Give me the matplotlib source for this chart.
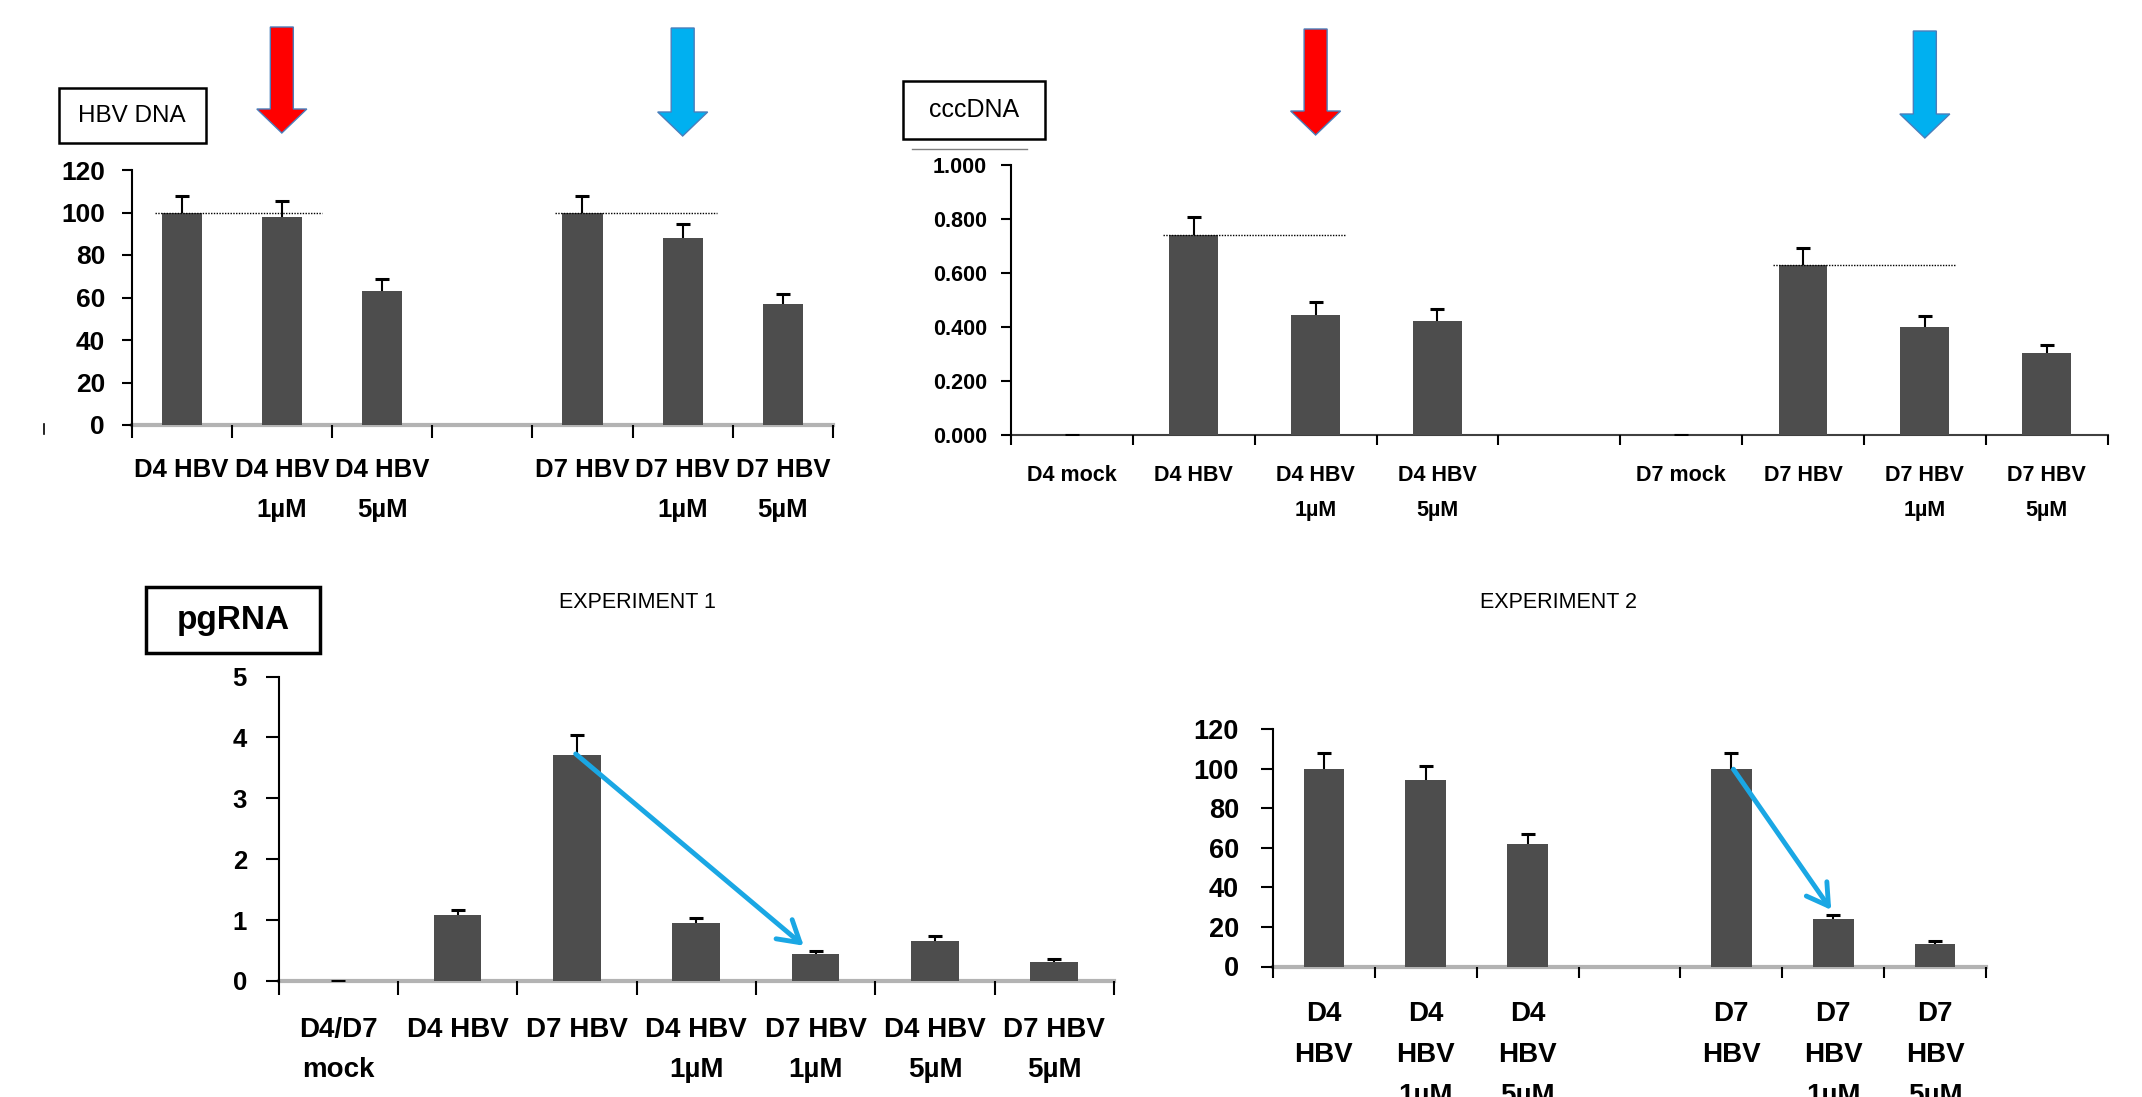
import numpy as np
import matplotlib
matplotlib.use("Agg")
import matplotlib.pyplot as plt
from matplotlib.patches import Rectangle, FancyArrow
from matplotlib.lines import Line2D

plt.rcParams['font.family'] = ['Liberation Sans', 'DejaVu Sans']

W, H = 2142, 1097

# ---- data ----
dna_labels = ["D4 HBV", "D4 HBV\n1µM", "D4 HBV\n5µM", "", "D7 HBV", "D7 HBV\n1µM", "D7 HBV\n5µM"]
dna_vals = [100, 98, 63, np.nan, 100, 88, 57]
dna_err = [8, 7.5, 5.5, np.nan, 8, 6.5, 4.5]
dna_yticks = [0, 20, 40, 60, 80, 100, 120]

ccc_labels = ["D4 mock", "D4 HBV", "D4 HBV\n1µM", "D4 HBV\n5µM", "",
              "D7 mock", "D7 HBV", "D7 HBV\n1µM", "D7 HBV\n5µM"]
ccc_vals = [0, 0.740, 0.446, 0.421, np.nan, 0, 0.629, 0.400, 0.303]
ccc_err = [0, 0.068, 0.048, 0.047, np.nan, 0, 0.064, 0.042, 0.032]
ccc_yticks = [0, 0.2, 0.4, 0.6, 0.8, 1.0]
ccc_yticklabels = ["0.000", "0.200", "0.400", "0.600", "0.800", "1.000"]

pg_labels = ["D4/D7\nmock", "D4 HBV", "D7 HBV", "D4 HBV\n1µM", "D7 HBV\n1µM", "D4 HBV\n5µM", "D7 HBV\n5µM"]
pg_vals = [0, 1.08, 3.72, 0.96, 0.44, 0.66, 0.32]
pg_err = [0, 0.09, 0.32, 0.08, 0.045, 0.075, 0.04]
pg_yticks = [0, 1, 2, 3, 4, 5]

ex2_labels = ["D4\nHBV", "D4\nHBV\n1µM", "D4\nHBV\n5µM", "", "D7\nHBV", "D7\nHBV\n1µM", "D7\nHBV\n5µM"]
ex2_vals = [100, 94, 62, np.nan, 100, 24, 11.3]
ex2_err = [8, 7.4, 5.2, np.nan, 8, 1.8, 1.4]
ex2_yticks = [0, 20, 40, 60, 80, 100, 120]

BAR = "#4d4d4d"
RED = "#ff0000"
BLUE = "#00b0f0"


def rect(x0, y0, x1, y1):
    return [x0 / W, 1 - y1 / H, (x1 - x0) / W, (y1 - y0) / H]


def panel(ax, labels, vals, errs, yticks, yticklabels, fs_y, fs_x, ypad, xpad,
          ylen, xlen, lspace, base_color="#b3b3b3", base_lw=3):
    n = len(labels)
    x = np.arange(n)
    vals = np.array(vals, dtype=float)
    errs = np.array(errs, dtype=float)
    ax.bar(x, vals, width=0.4, color=BAR, zorder=2)
    ax.vlines(x, vals, vals + errs, color="black", lw=1.5, zorder=3)
    ax.plot(x, vals + errs, "_", color="black", ms=10, mew=2.2, zorder=3)
    ax.set_xlim(-0.5, n - 0.5)
    ax.set_ylim(yticks[0], yticks[-1])
    ax.set_yticks(yticks)
    ax.set_yticklabels(yticklabels, fontsize=fs_y, fontweight="bold")
    ax.set_xticks(np.arange(-0.5, n))
    ax.set_xticklabels([])
    ax.set_xticks(x, labels, minor=True, fontsize=fs_x, fontweight="bold")
    for t in ax.get_xticklabels(minor=True):
        t.set_linespacing(lspace)
    ax.tick_params(axis="x", which="minor", length=0, pad=xpad)
    ax.tick_params(axis="x", which="major", length=xlen, width=1.5, direction="out")
    ax.tick_params(axis="y", length=ylen, width=1.5, direction="out", pad=ypad)
    for s in ["top", "right"]:
        ax.spines[s].set_visible(False)
    ax.spines["left"].set_linewidth(1.5)
    ax.spines["bottom"].set_color(base_color)
    ax.spines["bottom"].set_linewidth(base_lw)
    ax.spines["bottom"].set_zorder(1)
    ax.patch.set_alpha(0)


fig = plt.figure(figsize=(W / 100, H / 100), dpi=100)

ax1 = fig.add_axes(rect(131.5, 170, 833, 425))
panel(ax1, dna_labels, dna_vals, dna_err, dna_yticks, dna_yticks, 19, 18.5, 12, 24, 7, 9.4, 1.82)
for i, x1 in [(0, 1.4), (4, 5.34)]:
    ax1.plot([i - 0.27, x1], [dna_vals[i], dna_vals[i]], ls=(0, (1, 1)), lw=1, color="black", zorder=4)

ax2 = fig.add_axes(rect(1011, 165.4, 2107.6, 434.8))
panel(ax2, ccc_labels, ccc_vals, ccc_err, ccc_yticks, ccc_yticklabels, 15.5, 15.5, 9.7, 22, 7.5, 7, 1.85,
      base_color="#404040", base_lw=1.5)
for i in [1, 6]:
    ax2.plot([i - 0.25, i + 1.25], [ccc_vals[i], ccc_vals[i]], ls=(0, (1, 1)), lw=1, color="black", zorder=4)

ax3 = fig.add_axes(rect(278.5, 676.6, 1114, 981))
panel(ax3, pg_labels, pg_vals, pg_err, pg_yticks, pg_yticks, 18.5, 20, 13.5, 26, 9.2, 10, 1.68)

ax4 = fig.add_axes(rect(1273, 729, 1986, 966.5))
panel(ax4, ex2_labels, ex2_vals, ex2_err, ex2_yticks, ex2_yticks, 19.5, 20, 15.5, 25, 9, 8, 1.74)

# diagonal arrows inside bottom panels
arrow_kw = dict(arrowstyle="->,head_length=0.5,head_width=0.3", color="#1aa7e4", lw=3.5,
                mutation_scale=30, shrinkA=0, shrinkB=0)
ax3.annotate("", xy=(3.9, 0.58), xytext=(1.99, 3.73), arrowprops=arrow_kw, zorder=5)
ax4.annotate("", xy=(4.98, 28.6), xytext=(4.02, 99.7), arrowprops=arrow_kw, zorder=5)

# big block arrows above selected bars
inv = fig.transFigure.inverted()
for ax, xi, color, top, tip in [(ax1, 1, RED, 27, 133), (ax1, 5, BLUE, 28, 136),
                                (ax2, 2, RED, 29, 135), (ax2, 7, BLUE, 31, 138)]:
    fx = inv.transform(ax.transData.transform((xi, 0)))[0]
    fig.add_artist(FancyArrow(fx, 1 - top / H, 0, -(tip - top) / H, width=23 / W,
                              head_width=50 / W, head_length=24 / H, length_includes_head=True,
                              fc=color, ec="#4a7ebb", lw=1, transform=fig.transFigure))

# boxed labels
for (x0, y0, x1, y1), txt, fs, weight, lw in [
        ((58.6, 88, 205.5, 143), "HBV DNA", 17.5, "normal", 1.8),
        ((902.5, 81, 1045, 139.5), "cccDNA", 18, "normal", 1.8),
        ((146, 587, 320, 653), "pgRNA", 24, "bold", 2.5)]:
    fig.add_artist(Rectangle((x0 / W, 1 - y1 / H), (x1 - x0) / W, (y1 - y0) / H, fill=False,
                             ec="black", lw=lw, transform=fig.transFigure))
    fig.text((x0 + x1) / 2 / W, 1 - (y0 + y1) / 2 / H, txt, ha="center", va="center",
             fontsize=fs, fontweight=weight)

fig.add_artist(Line2D([912 / W, 1027 / W], [1 - 149 / H, 1 - 149 / H], color="#808080", lw=1))
fig.add_artist(Line2D([44 / W, 44 / W], [1 - 424 / H, 1 - 434 / H], color="black", lw=1.2))

fig.text(637.5 / W, 1 - 602 / H, "EXPERIMENT 1", ha="center", va="center", fontsize=15.5)
fig.text(1559 / W, 1 - 602 / H, "EXPERIMENT 2", ha="center", va="center", fontsize=15.5)

fig.savefig("out.png", dpi=100)
